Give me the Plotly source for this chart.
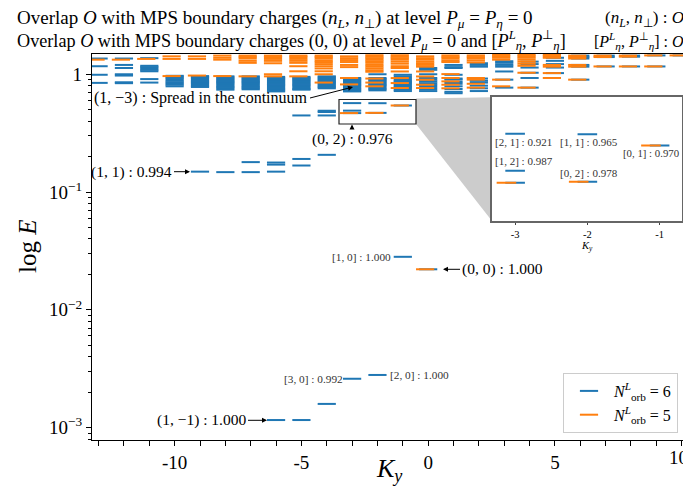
import plotly.graph_objects as go

# ---------------- data ----------------
Ky = list(range(-13, 11))

# energy levels (E) per Ky for N_orb^L = 6 (blue)
N6_levels = [
    [1.36, 1.17, 0.99, 0.845],                                                        # -13
    [1.36, 1.20, 1.13, 1.00, 0.975, 0.855, 0.84],                                     # -12
    [1.37, 1.18, 1.15, 1.12, 1.09, 1.06, 0.91, 0.85],                                 # -11
    [0.97, 0.955, 0.93, 0.905, 0.88, 0.855, 0.835, 0.815, 0.79],                      # -10
    [0.965, 0.945, 0.925, 0.90, 0.88, 0.86, 0.84, 0.82, 0.80, 0.78, 0.149],           # -9
    [0.96, 0.94, 0.92, 0.90, 0.88, 0.86, 0.84, 0.82, 0.80, 0.78, 0.76, 0.74, 0.1476], # -8
    [0.96, 0.94, 0.92, 0.90, 0.88, 0.86, 0.84, 0.82, 0.80, 0.78, 0.76, 0.745,
     0.1795, 0.1476],                                                                 # -7
    [0.95, 0.93, 0.91, 0.89, 0.87, 0.85, 0.83, 0.81, 0.79, 0.77, 0.75, 0.73, 0.715,
     0.178, 0.171, 0.149, 0.00116],                                                   # -6
    [0.95, 0.93, 0.91, 0.89, 0.87, 0.85, 0.83, 0.81, 0.79, 0.77, 0.75, 0.74,
     0.447, 0.191, 0.168, 0.00116],                                                   # -5
    [0.96, 0.94, 0.92, 0.90, 0.88, 0.86, 0.84, 0.82, 0.80, 0.78, 0.76,
     0.49, 0.478, 0.447, 0.207, 0.00159],                                             # -4
    [0.93, 0.91, 0.89, 0.87, 0.85, 0.83, 0.81, 0.79, 0.77, 0.75, 0.73, 0.715,
     0.569, 0.491, 0.468, 0.0026],                                                    # -3
    [1.0, 0.93, 0.91, 0.89, 0.87, 0.85, 0.83, 0.81, 0.79, 0.77, 0.75, 0.73,
     0.568, 0.470, 0.0028],                                                           # -2
    [0.99, 0.96, 0.93, 0.90, 0.88, 0.86, 0.84, 0.82, 0.80, 0.78, 0.76, 0.74, 0.72,
     0.543, 0.0282],                                                                  # -1
    [1.13, 1.09, 1.0, 0.93, 0.90, 0.87, 0.84, 0.81, 0.78, 0.75, 0.72, 0.0221],        # 0
    [1.2, 1.15, 1.13, 0.99, 0.92, 0.90, 0.86, 0.83, 0.79, 0.75, 0.71, 0.69],          # 1
    [1.24, 1.2, 1.16, 0.92, 0.88, 0.85, 0.80, 0.76, 0.72],                            # 2
    [1.29, 1.25, 1.2, 1.16, 1.056, 0.9, 0.77],                                        # 3
    [1.28, 1.22, 1.14, 1.03, 0.93, 0.77],                                             # 4
    [1.38, 1.3, 1.22, 1.14, 1.023],                                                   # 5
    [1.44, 1.40, 1.36, 1.2, 1.16, 0.9],                                               # 6
    [1.44, 1.40, 1.165],                                                              # 7
    [1.44, 1.41, 1.165],                                                              # 8
    [1.445, 1.165],                                                                   # 9
    [1.445],                                                                          # 10
]

# energy levels (E) per Ky for N_orb^L = 5 (orange)
N5_levels = [
    [1.33],                                                                           # -13
    [1.33],                                                                           # -12
    [1.35],                                                                           # -11
    [1.42, 1.35, 0.965],                                                              # -10
    [1.42, 1.35, 0.975],                                                              # -9
    [1.44, 1.38, 1.33, 0.965],                                                        # -8
    [1.44, 1.40, 1.36, 1.30, 1.25, 0.96],                                             # -7
    [1.44, 1.40, 1.35, 1.30, 1.24, 1.0, 0.96],                                        # -6
    [1.44, 1.40, 1.35, 1.30, 1.25, 1.17, 1.06, 0.96],                                 # -5
    [1.44, 1.40, 1.36, 1.31, 1.27, 1.22, 1.17, 1.12, 1.06, 1.0, 0.85],                # -4
    [1.42, 1.37, 1.32, 1.27, 1.20, 1.15, 0.93, 0.82, 0.468],                          # -3
    [1.45, 1.41, 1.37, 1.33, 1.29, 1.25, 1.2, 1.16, 1.12, 1.08, 1.05, 0.92, 0.85,
     0.79, 0.470],                                                                    # -2
    [1.45, 1.41, 1.37, 1.33, 1.28, 1.23, 1.17, 1.13, 1.056, 0.928, 0.842, 0.764,
     0.543],                                                                          # -1
    [1.42, 1.37, 1.33, 1.28, 1.24, 1.2, 1.16, 1.056, 0.958, 0.898, 0.815, 0.764,
     0.0221],                                                                         # 0
    [1.445, 1.40, 1.36, 1.31, 1.27, 1.003, 0.93, 0.87, 0.815, 0.76],                  # 1
    [1.445, 1.40, 1.36, 1.31, 1.26, 0.93, 0.90, 0.83, 0.77],                          # 2
    [1.46, 1.42, 1.38, 1.33, 0.90, 0.79],                                             # 3
    [1.46, 1.42, 1.38, 1.33, 1.28, 1.23, 1.18, 1.03, 0.77],                           # 4
    [1.46, 1.42, 1.38, 1.2, 1.16, 1.023, 0.93],                                       # 5
    [1.44, 1.40, 1.36, 1.2, 1.16, 0.9],                                               # 6
    [1.44, 1.40, 1.165],                                                              # 7
    [1.44, 1.41, 1.165],                                                              # 8
    [1.445, 1.165],                                                                   # 9
    [1.445],                                                                          # 10
]

x_tick_labels = ["-10", "-5", "0", "5", "10"]
y_tick_labels = ["10<sup>−3</sup>", "10<sup>−2</sup>", "10<sup>−1</sup>", "1"]

# ---------------- helpers ----------------
BLUE = "#1f77b4"
ORANGE = "#ff7f0e"
FONT = "Liberation Serif"
ORANGE_SHIFT = -0.12

# page body has an 8px margin: figure is placed at (8, 8) in the window
PAGE_OFF = 8
L, T, W, H = 92, 54, 594, 386          # plot area in window pixels
WIN_W, WIN_H = 691, 489
FIG_W, FIG_H = WIN_W - PAGE_OFF, WIN_H - PAGE_OFF


def X(px):
    return (px - L) / W


def Y(py):
    return (T + H - py) / H


def flatten(levels, shift=0.0):
    xs, ys = [], []
    for k, vals in zip(Ky, levels):
        for v in vals:
            xs.append(k + shift)
            ys.append(v)
    return xs, ys


bx, by = flatten(N6_levels)
ox, oy = flatten(N5_levels, ORANGE_SHIFT)

# plotly's line-ew symbol is 1.4*size long
MAIN_SEG = 13
INSET_SEG = 14

fig = go.Figure()
fig.add_trace(go.Scatter(x=bx, y=by, mode="markers", name="<i>N</i><sup><i>L</i></sup><sub>orb</sub> = 6",
                         marker=dict(symbol="line-ew", size=MAIN_SEG, color=BLUE, line=dict(width=2, color=BLUE))))
fig.add_trace(go.Scatter(x=ox, y=oy, mode="markers", name="<i>N</i><sup><i>L</i></sup><sub>orb</sub> = 5",
                         marker=dict(symbol="line-ew", size=MAIN_SEG, color=ORANGE, line=dict(width=2, color=ORANGE))))
fig.add_trace(go.Scatter(x=bx, y=by, mode="markers", showlegend=False, xaxis="x2", yaxis="y2",
                         marker=dict(symbol="line-ew", size=INSET_SEG, color=BLUE, line=dict(width=2, color=BLUE))))
fig.add_trace(go.Scatter(x=ox, y=oy, mode="markers", showlegend=False, xaxis="x2", yaxis="y2",
                         marker=dict(symbol="line-ew", size=INSET_SEG, color=ORANGE, line=dict(width=2, color=ORANGE))))

major_x = [-10, -5, 0, 5, 10]
# the label of the last tick sits at the window edge; it is drawn as an annotation below
axis_tick_text = x_tick_labels[:-1] + [""]
minor_y = [8e-4, 9e-4] + [m * 10 ** e for e in (-3, -2, -1) for m in range(2, 10)]
XR = [-13.26, 10.17]

fig.update_layout(
    width=FIG_W, height=FIG_H,
    margin=dict(l=L - PAGE_OFF, r=WIN_W - L - W, t=T - PAGE_OFF, b=WIN_H - T - H),
    paper_bgcolor="white", plot_bgcolor="white",
    font=dict(family=FONT, color="black"),
    xaxis=dict(range=XR, domain=[0, 1], tickmode="array",
               tickvals=major_x, ticktext=axis_tick_text,
               ticks="outside", ticklen=5, tickwidth=1, tickcolor="black",
               minor=dict(tickvals=[k for k in Ky if k not in major_x], ticks="outside",
                          ticklen=5, tickwidth=1, tickcolor="black"),
               showline=True, linecolor="black", linewidth=1.3, mirror=True,
               showgrid=False, zeroline=False, tickfont=dict(size=19, family=FONT)),
    yaxis=dict(type="log", range=[-3.105, 0.172], domain=[0, 1], tickmode="array",
               tickvals=[1e-3, 1e-2, 1e-1, 1], ticktext=y_tick_labels,
               ticks="outside", ticklen=5, tickwidth=1, tickcolor="black",
               minor=dict(tickvals=minor_y, ticks="outside", ticklen=3, tickwidth=1, tickcolor="black"),
               showline=True, linecolor="black", linewidth=1.3, mirror=True,
               showgrid=False, zeroline=False, tickfont=dict(size=19, family=FONT)),
    xaxis2=dict(range=[-3.32, -0.69], domain=[X(492), X(682)], anchor="y2",
                tickmode="array", tickvals=[-3, -2, -1], ticktext=["-3", "-2", "-1"],
                ticks="outside", ticklen=2, tickcolor="#444", showline=True, linecolor="#666",
                linewidth=2, mirror=True, showgrid=False, zeroline=False,
                tickfont=dict(size=10.5, family=FONT)),
    yaxis2=dict(type="log", range=[-0.396, -0.1815], domain=[Y(221), Y(97.3)], anchor="x2",
                showticklabels=False, ticks="", showline=True, linecolor="#666", linewidth=2,
                mirror=True, showgrid=False, zeroline=False),
    legend=dict(x=X(678), y=Y(433), xanchor="right", yanchor="bottom", bgcolor="white",
                bordercolor="#cccccc", borderwidth=1, font=dict(size=16, family=FONT),
                itemwidth=40, tracegroupgap=0),
    showlegend=True,
)

# zoom box and connector fill
fig.add_shape(type="path", xref="paper", yref="paper",
              path=f"M {X(416)} {Y(98.5)} L {X(492)} {Y(97.3)} L {X(492)} {Y(221)} L {X(416)} {Y(124)} Z",
              fillcolor="#cccccc", line=dict(width=0), layer="below")
fig.add_shape(type="rect", xref="paper", yref="paper", x0=X(339), x1=X(416), y0=Y(124), y1=Y(99.5),
              line=dict(color="#222", width=1.2))

ann = []


def txt(text, px, py, size, xanchor="left", color="black", **kw):
    ann.append(dict(text=text, x=X(px), y=Y(py), xref="paper", yref="paper", showarrow=False,
                    xanchor=xanchor, yanchor="middle", borderpad=0,
                    font=dict(size=size, family=FONT, color=color), **kw))


def arrow(text, tipx, tipy, ax, ay, size, xanchor):
    ann.append(dict(text=text, x=X(tipx), y=Y(tipy), xref="paper", yref="paper", showarrow=True,
                    ax=ax, ay=ay, xanchor=xanchor, yanchor="middle", arrowhead=2, arrowsize=1,
                    arrowwidth=1, arrowcolor="black", font=dict(size=size, family=FONT, color="black")))


# last x tick label, right-aligned at the window edge
ann.append(dict(text=x_tick_labels[-1], x=major_x[-1], xref="x", y=Y(457), yref="paper",
                xshift=690 - (L + (major_x[-1] - XR[0]) / (XR[1] - XR[0]) * W) - 0.5,
                showarrow=False, xanchor="right", yanchor="middle", borderpad=0,
                font=dict(size=19, family=FONT, color="black")))

# titles
txt("Overlap <i>O</i> with MPS boundary charges (<i>n<sub>L</sub></i>, <i>n</i><sub>⊥</sub>) at level "
    "<i>P<sub>μ</sub></i> = <i>P<sub>η</sub></i> = 0", 16, 19, 19)
txt("(<i>n<sub>L</sub></i>, <i>n</i><sub>⊥</sub>) : <i>O</i>", 685, 19, 17, xanchor="right")
txt("Overlap <i>O</i> with MPS boundary charges (0, 0) at level <i>P<sub>μ</sub></i> = 0 and "
    "[<i>P</i><sup><i>L</i></sup><sub><i>η</i></sub>, <i>P</i><sup>⊥</sup><sub><i>η</i></sub>]", 16, 40, 18.2)
txt("[<i>P</i><sup><i>L</i></sup><sub><i>η</i></sub>, <i>P</i><sup>⊥</sup><sub><i>η</i></sub>] : <i>O</i>",
    685, 40.5, 16, xanchor="right")

# axis titles
txt("<i>K<sub>y</sub></i>", 389, 470, 26, xanchor="center")
ann.append(dict(text="log <i>E</i>", x=X(27), y=Y(247), xref="paper", yref="paper", showarrow=False,
                textangle=-90, xanchor="center", yanchor="middle", font=dict(size=25, family=FONT)))

# arrow annotations
arrow("(1, −3) : Spread in the continuum", 353, 87, -43, 11, 16, "right")
ann.append(dict(text="(0, 2) : 0.976", x=X(352), y=Y(124.5), xref="paper", yref="paper", showarrow=True,
                ax=0, ay=3, xanchor="center", yanchor="top", arrowhead=2, arrowsize=1, arrowwidth=1,
                arrowcolor="black", font=dict(size=15.5, family=FONT)))
arrow("(1, 1) : 0.994", 190, 171.7, -16, 0, 15.5, "right")
arrow("(0, 0) : 1.000", 443, 269.3, 17, 0, 15.5, "left")
arrow("(1, −1) : 1.000", 267, 420.3, -19, 0, 15.5, "right")

# small labels
txt("[1, 0] : 1.000", 392, 257, 11.3, xanchor="right", color="#333")
txt("[3, 0] : 0.992", 343.5, 378.7, 11.3, xanchor="right", color="#333")
txt("[2, 0] : 1.000", 389, 374.7, 11.3, xanchor="left", color="#333")
txt("[2, 1] : 0.921", 494, 142.3, 11, color="#333")
txt("[1, 2] : 0.987", 494, 161, 11, color="#333")
txt("[1, 1] : 0.965", 559, 142.3, 11, color="#333")
txt("[0, 2] : 0.978", 559, 172.7, 11, color="#333")
txt("[0, 1] : 0.970", 621.5, 152.7, 10.8, color="#333")
txt("<i>K<sub>y</sub></i>", 587, 246, 10.5, xanchor="center")

fig.update_layout(annotations=ann)
fig.write_html("out.html")
